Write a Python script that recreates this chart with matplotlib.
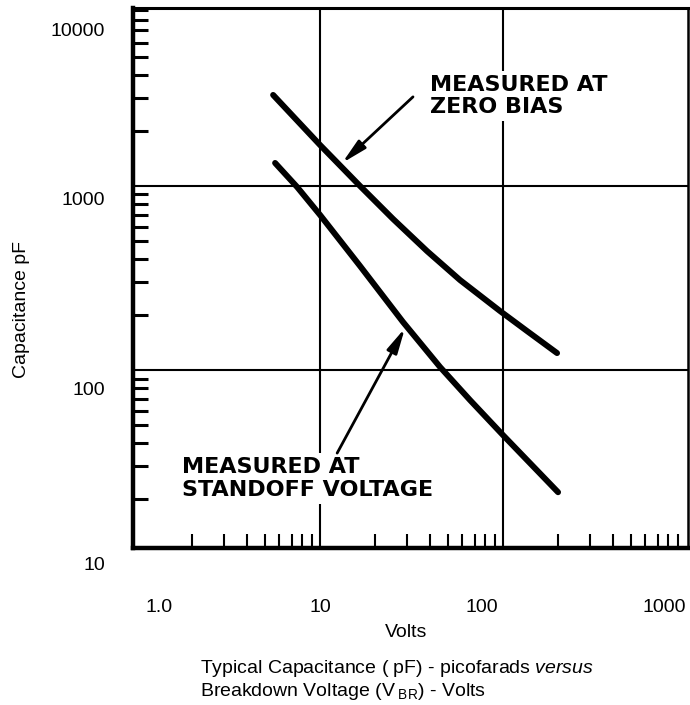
import matplotlib.pyplot as plt
from matplotlib.ticker import FixedLocator, LogLocator, NullFormatter

'''
Typical capacitance vs breakdown voltage (datasheet curve)
'''
plt.rcParams['font.family'] = 'Liberation Sans'
plt.rcParams['mathtext.fontset'] = 'custom'
plt.rcParams['mathtext.rm'] = 'Liberation Sans'
plt.rcParams['mathtext.it'] = 'Liberation Sans:italic'

# curves
zero_v = [5.54, 10, 16.54, 25.06, 38.43, 58.2, 96.3, 135.2, 197.3]
zero_c = [3124, 1670, 1000, 662, 443, 308.4, 209.3, 163, 123.7]
standoff_v = [5.68, 7.49, 10, 16.54, 28.4, 45.3, 66.0, 100, 199.8]
standoff_c = [1334, 988, 696, 367.5, 182.4, 103.8, 68.7, 44.3, 21.7]

x_labels = ['1.0', '10', '100', '1000']
x_label_vals = [1, 10, 100, 1000]
x_label_dx = [22, 0, -21, -22]  # the scan prints them a bit off the grid
y_labels = ['10000', '1000', '100', '10']
y_label_vals = [10000, 1000, 100, 10]
y_label_dy = [30, 14, 20, 11]

fig = plt.figure(figsize=(6.9, 7.05), dpi=100)
ax = fig.add_axes([133 / 690, 1 - 548 / 705, 555 / 690, 540 / 705])
ax.set_xscale('log')
ax.set_yscale('log')
ax.set_xlim(0.95, 1025)
ax.set_ylim(10.8, 9270)

ax.plot(zero_v, zero_c, color='black', lw=4.3, solid_capstyle='round', solid_joinstyle='round', zorder=4)
ax.plot(standoff_v, standoff_c, color='black', lw=4.3, solid_capstyle='round', solid_joinstyle='round', zorder=4)

ax.xaxis.set_major_locator(FixedLocator([10, 100]))
ax.yaxis.set_major_locator(FixedLocator([100, 1000]))
ax.xaxis.set_minor_locator(LogLocator(base=10, subs=range(2, 10), numticks=20))
ax.yaxis.set_minor_locator(LogLocator(base=10, subs=range(2, 10), numticks=20))
for a in (ax.xaxis, ax.yaxis):
    a.set_major_formatter(NullFormatter())
    a.set_minor_formatter(NullFormatter())
ax.tick_params(which='major', length=0)
ax.tick_params(axis='x', which='minor', direction='in', length=10, width=1.5, top=False, bottom=True)
ax.tick_params(axis='y', which='minor', direction='in', length=11, width=2.2, left=True, right=False)
ax.grid(True, which='major', color='black', lw=1.5)

ax.spines['left'].set_linewidth(3.2)
ax.spines['bottom'].set_linewidth(3.2)
ax.spines['top'].set_linewidth(2.2)
ax.spines['right'].set_linewidth(1.8)

for lab, v, dx in zip(x_labels, x_label_vals, x_label_dx):
    ax.annotate(lab, xy=(v, 0), xycoords=('data', 'axes fraction'), xytext=(dx, -59),
                textcoords='offset pixels', ha='center', va='center', fontsize=14,
                annotation_clip=False)
for lab, v, dy in zip(y_labels, y_label_vals, y_label_dy):
    ax.annotate(lab, xy=(0, v), xycoords=('axes fraction', 'data'), xytext=(-28, -dy),
                textcoords='offset pixels', ha='right', va='center', fontsize=14,
                annotation_clip=False)

ax.set_xlabel('Volts', fontsize=14, va='center')
ax.xaxis.set_label_coords(0.492, -0.157)
ax.set_ylabel('Capacitance pF', fontsize=14, va='center')
ax.yaxis.set_label_coords(-0.2, 0.441)

# annotations with arrows
box = dict(facecolor='white', edgecolor='none', pad=3)
ax.text(39.9, 3085, 'MEASURED AT\nZERO BIAS', fontsize=16, family='DejaVu Sans', weight='bold',
        ha='left', va='center', linespacing=1.15, bbox=box, zorder=3)
ax.text(1.76, 25.7, 'MEASURED AT\nSTANDOFF VOLTAGE', fontsize=16, family='DejaVu Sans', weight='bold',
        ha='left', va='center', linespacing=1.15, bbox=box, zorder=3)
arrow = dict(arrowstyle='-|>,head_length=1.0,head_width=0.22', lw=2, color='black',
             mutation_scale=15, shrinkA=0, shrinkB=0)
ax.annotate('', xy=(13.2, 1334), xytext=(32.2, 3050), arrowprops=arrow, zorder=5)
ax.annotate('', xy=(29.1, 169), xytext=(12.4, 35.4), arrowprops=arrow, zorder=5)

fig.text(200 / 690, 1 - 673 / 705, r'Typical Capacitance ( pF) - picofarads $\mathit{versus}$',
         fontsize=14, ha='left', va='baseline')
fig.text(200 / 690, 1 - 696 / 705, r'Breakdown Voltage (V$_{\ \mathrm{BR}}$) - Volts',
         fontsize=14, ha='left', va='baseline')

plt.savefig('out.png', dpi=100)
